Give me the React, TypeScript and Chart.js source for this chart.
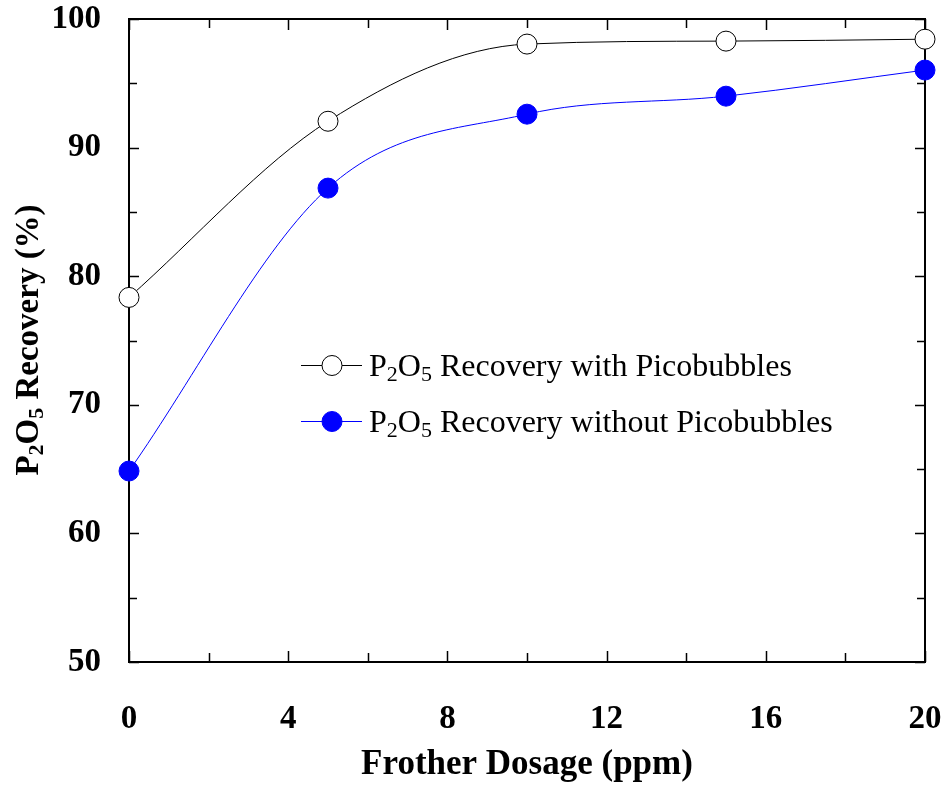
import React, { useEffect, useRef } from "react";
import { Chart, registerables } from "chart.js";

Chart.register(...registerables);

// Frother dosage (ppm) and P2O5 recovery (%) for the two flotation setups
const dosage = [0, 5, 10, 15, 20];
const recoveryWithPico = [78.35, 92.05, 98.05, 98.28, 98.43];
const recoveryWithoutPico = [64.85, 86.85, 92.6, 94.0, 96.03];

const xTickStep = 2;
const xLabelStep = 4;
const yTickStep = 5;
const yLabelStep = 10;

const SERIF = '"Liberation Serif", "Times New Roman", Times, serif';

// Draws text with subscript runs: parts are [text, isSub]
function drawRich(
  ctx: CanvasRenderingContext2D,
  parts: [string, boolean][],
  x: number,
  y: number,
  size: number,
  weight: string
) {
  let cx = x;
  ctx.textBaseline = "alphabetic";
  ctx.textAlign = "left";
  for (const [t, sub] of parts) {
    const s = sub ? Math.round(size * 0.68) : size;
    ctx.font = `${weight} ${s}px ${SERIF}`;
    ctx.fillText(t, cx, sub ? y + size * 0.16 : y);
    cx += ctx.measureText(t).width;
  }
  return cx - x;
}

function measureRich(ctx: CanvasRenderingContext2D, parts: [string, boolean][], size: number, weight: string) {
  let w = 0;
  for (const [t, sub] of parts) {
    const s = sub ? Math.round(size * 0.68) : size;
    ctx.font = `${weight} ${s}px ${SERIF}`;
    w += ctx.measureText(t).width;
  }
  return w;
}

const framePlugin = {
  id: "frameAndTicks",
  beforeDatasetsDraw(chart: any) {
    const { ctx, chartArea: a, scales } = chart;
    ctx.save();
    ctx.strokeStyle = "#000";
    // inward ticks on all four sides
    ctx.lineWidth = 1.5;
    const xs = scales.x;
    for (let v = xs.min; v <= xs.max + 1e-9; v += xTickStep) {
      const px = Math.round(xs.getPixelForValue(v)) + 0.5;
      const len = v % xLabelStep === 0 ? 11 : 9;
      ctx.beginPath();
      ctx.moveTo(px, a.bottom);
      ctx.lineTo(px, a.bottom - len);
      ctx.moveTo(px, a.top);
      ctx.lineTo(px, a.top + len);
      ctx.stroke();
    }
    const ys = scales.y;
    for (let v = ys.min; v <= ys.max + 1e-9; v += yTickStep) {
      const py = Math.round(ys.getPixelForValue(v)) + 0.5;
      const len = v % yLabelStep === 0 ? 10 : 8;
      ctx.beginPath();
      ctx.moveTo(a.left, py);
      ctx.lineTo(a.left + len, py);
      ctx.moveTo(a.right, py);
      ctx.lineTo(a.right - len, py);
      ctx.stroke();
    }
    ctx.lineWidth = 2;
    ctx.strokeRect(a.left, a.top, a.right - a.left, a.bottom - a.top);
    ctx.restore();
  },
  afterDraw(chart: any) {
    const { ctx } = chart;
    ctx.save();
    ctx.fillStyle = "#000";
    // y axis title with subscripts
    const yTitle: [string, boolean][] = [
      ["P", false],
      ["2", true],
      ["O", false],
      ["5", true],
      [" Recovery (%)", false],
    ];
    const ySize = 33;
    const w = measureRich(ctx, yTitle, ySize, "bold");
    ctx.translate(38, 340);
    ctx.rotate(-Math.PI / 2);
    drawRich(ctx, yTitle, -w / 2, 0, ySize, "bold");
    ctx.restore();

    // legend
    ctx.save();
    const rows = [
      { label: " Recovery with Picobubbles", color: "#000", fill: "#fff", y: 365 },
      { label: " Recovery without Picobubbles", color: "#0000ff", fill: "#0000ff", y: 421 },
    ];
    for (const r of rows) {
      ctx.strokeStyle = r.color;
      ctx.lineWidth = 1;
      ctx.beginPath();
      ctx.moveTo(301, r.y + 0.5);
      ctx.lineTo(362, r.y + 0.5);
      ctx.stroke();
      ctx.beginPath();
      ctx.arc(332, r.y + 0.5, 10, 0, Math.PI * 2);
      ctx.fillStyle = r.fill;
      ctx.fill();
      ctx.stroke();
      ctx.fillStyle = "#000";
      drawRich(
        ctx,
        [
          ["P", false],
          ["2", true],
          ["O", false],
          ["5", true],
          [r.label, false],
        ],
        369,
        r.y + 11,
        32,
        "normal"
      );
    }
    ctx.restore();
  },
};

export default function App() {
  const canvasRef = useRef<HTMLCanvasElement | null>(null);

  useEffect(() => {
    if (!canvasRef.current) return;
    const chart = new Chart(canvasRef.current, {
      type: "line",
      data: {
        datasets: [
          {
            label: "P2O5 Recovery with Picobubbles",
            data: dosage.map((x, i) => ({ x, y: recoveryWithPico[i] })),
            borderColor: "#000",
            borderWidth: 1,
            backgroundColor: "#fff",
            pointBackgroundColor: "#fff",
            pointBorderColor: "#000",
            pointBorderWidth: 1,
            pointRadius: 10,
            cubicInterpolationMode: "monotone",
            clip: false as any,
          },
          {
            label: "P2O5 Recovery without Picobubbles",
            data: dosage.map((x, i) => ({ x, y: recoveryWithoutPico[i] })),
            borderColor: "#0000ff",
            borderWidth: 1,
            backgroundColor: "#0000ff",
            pointBackgroundColor: "#0000ff",
            pointBorderColor: "#0000ff",
            pointBorderWidth: 1,
            pointRadius: 10,
            cubicInterpolationMode: "monotone",
            clip: false as any,
          },
        ],
      },
      options: {
        animation: false,
        responsive: true,
        maintainAspectRatio: false,
        layout: { padding: { left: 0, right: 21, top: 19, bottom: 0 } },
        plugins: {
          legend: { display: false },
          tooltip: { enabled: false },
        },
        scales: {
          x: {
            type: "linear",
            min: 0,
            max: 20,
            grid: { display: false, drawTicks: false },
            border: { display: false },
            ticks: {
              stepSize: xTickStep,
              autoSkip: false,
              maxRotation: 0,
              padding: 38,
              color: "#000",
              font: { family: SERIF, size: 33, weight: "bold" },
              callback: (v: any) => (Number(v) % xLabelStep === 0 ? String(v) : ""),
            },
            title: {
              display: true,
              text: "Frother Dosage (ppm)",
              color: "#000",
              font: { family: SERIF, size: 35, weight: "bold" },
              padding: { top: 6, bottom: 0 },
            },
            afterFit: (s: any) => {
              s.height = 124;
              s.paddingLeft = 0;
              s.paddingRight = 0;
              s.paddingTop = 0;
              s.paddingBottom = 0;
            },
          },
          y: {
            type: "linear",
            min: 50,
            max: 100,
            grid: { display: false, drawTicks: false },
            border: { display: false },
            ticks: {
              stepSize: yTickStep,
              autoSkip: false,
              padding: 28,
              color: "#000",
              font: { family: SERIF, size: 33, weight: "bold" },
              callback: (v: any) => (Number(v) % yLabelStep === 0 ? String(v) : ""),
            },
            afterFit: (s: any) => {
              s.width = 129;
              s.paddingLeft = 0;
              s.paddingRight = 0;
              s.paddingTop = 0;
              s.paddingBottom = 0;
            },
          },
        },
      },
      plugins: [framePlugin],
    });
    return () => chart.destroy();
  }, []);

  return (
    <div style={{ position: "fixed", left: 0, top: 0, width: 946, height: 786, background: "#fff" }}>
      <canvas ref={canvasRef} />
    </div>
  );
}
